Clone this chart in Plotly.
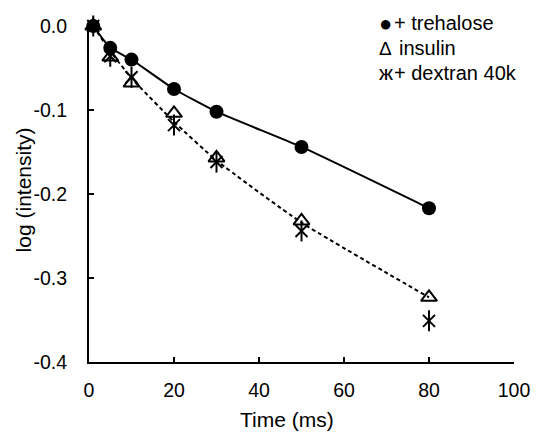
import plotly.graph_objects as go

time_ms = [1, 5, 10, 20, 30, 50, 80]
trehalose = [0.0, -0.026, -0.040, -0.075, -0.102, -0.144, -0.217]
insulin = [0.0, -0.037, -0.068, -0.104, -0.157, -0.232, -0.323]
dextran = [0.0, -0.036, -0.061, -0.118, -0.162, -0.244, -0.351]
fit_time = [1, 5, 10, 20, 30, 50, 80]
fit_insulin = [0.0, -0.030, -0.062, -0.114, -0.160, -0.234, -0.323]

x_ticks = [0, 20, 40, 60, 80, 100]
y_ticks = [0.0, -0.1, -0.2, -0.3, -0.4]
y_tick_text = ["0.0", "-0.1", "-0.2", "-0.3", "-0.4"]
legend_glyphs = ["\u25CF", "\u0394", "\u0436"]
legend_labels = ["+ trehalose", "insulin", "+ dextran 40k"]

FONT = "Liberation Sans, Arial, sans-serif"
plot_left, plot_right, plot_top, plot_bottom = 89, 523, 26, 362
W, H = 542, 432


def fx(px):
    return (px - plot_left) / (plot_right - plot_left)


def fy(py):
    return 1 - (py - plot_top) / (plot_bottom - plot_top)


fig = go.Figure()
fig.add_trace(go.Scatter(x=time_ms, y=trehalose, mode="lines",
                         line=dict(color="black", width=2, shape="spline", smoothing=0.5),
                         showlegend=False, hoverinfo="skip"))
fig.add_trace(go.Scatter(x=fit_time, y=fit_insulin, mode="lines",
                         line=dict(color="black", width=2, dash="4px,3px", shape="spline", smoothing=0.5),
                         showlegend=False, hoverinfo="skip"))
fig.add_trace(go.Scatter(x=time_ms, y=dextran, mode="markers", name="+ dextran 40k",
                         marker=dict(symbol="x-thin-open", size=12, color="black",
                                     line=dict(color="black", width=2)),
                         showlegend=False, cliponaxis=False))
fig.add_trace(go.Scatter(x=time_ms, y=dextran, mode="markers", name="+ dextran 40k",
                         marker=dict(symbol="line-ns-open", size=15, color="black",
                                     line=dict(color="black", width=2)),
                         showlegend=False, cliponaxis=False))
fig.add_trace(go.Scatter(x=time_ms, y=insulin, mode="markers", name="insulin",
                         marker=dict(symbol="triangle-up-open", size=14, color="black",
                                     line=dict(color="black", width=2)),
                         showlegend=False, cliponaxis=False))
fig.add_trace(go.Scatter(x=time_ms, y=trehalose, mode="markers", name="+ trehalose",
                         marker=dict(symbol="circle", size=14, color="black"),
                         showlegend=False, cliponaxis=False))

row_y = [23, 48, 73]
text_x = [398, 404, 398]
glyph_size = [22, 19, 21]
for i in range(3):
    fig.add_annotation(x=fx(392), y=fy(row_y[i]), xref="x domain", yref="y domain",
                       text=legend_glyphs[i], showarrow=False, xanchor="center", yanchor="middle",
                       font=dict(family=FONT, size=glyph_size[i], color="black"))
    fig.add_annotation(x=fx(text_x[i]), y=fy(row_y[i]), xref="x domain", yref="y domain",
                       text=legend_labels[i], showarrow=False, xanchor="left", yanchor="middle",
                       font=dict(family=FONT, size=20, color="black"))

fig.add_annotation(x=fx(291), y=fy(419), xref="x domain", yref="y domain",
                   text="Time (ms)", showarrow=False, xanchor="center", yanchor="middle",
                   font=dict(family=FONT, size=21, color="black"))
fig.add_annotation(x=fx(22), y=fy(190), xref="x domain", yref="y domain",
                   text="log (intensity)", showarrow=False, textangle=-90,
                   xanchor="center", yanchor="middle",
                   font=dict(family=FONT, size=21, color="black"))

fig.update_layout(
    width=W, height=H,
    margin=dict(l=plot_left, r=W - plot_right, t=plot_top, b=H - plot_bottom),
    paper_bgcolor="white", plot_bgcolor="white",
    font=dict(family=FONT, size=19.5, color="black"),
    showlegend=False,
    xaxis=dict(range=[0, 100], tickvals=x_ticks, ticks="inside", ticklen=5, tickwidth=2,
               tickcolor="black", showline=True, linecolor="black", linewidth=2,
               showgrid=False, zeroline=False, ticklabelstandoff=10),
    yaxis=dict(range=[-0.4, 0], tickvals=y_ticks, ticktext=y_tick_text, ticks="inside",
               ticklen=5, tickwidth=2, tickcolor="black", showline=True, linecolor="black",
               linewidth=2, showgrid=False, zeroline=False, ticklabelstandoff=16),
)

fig.write_html("out.html")
